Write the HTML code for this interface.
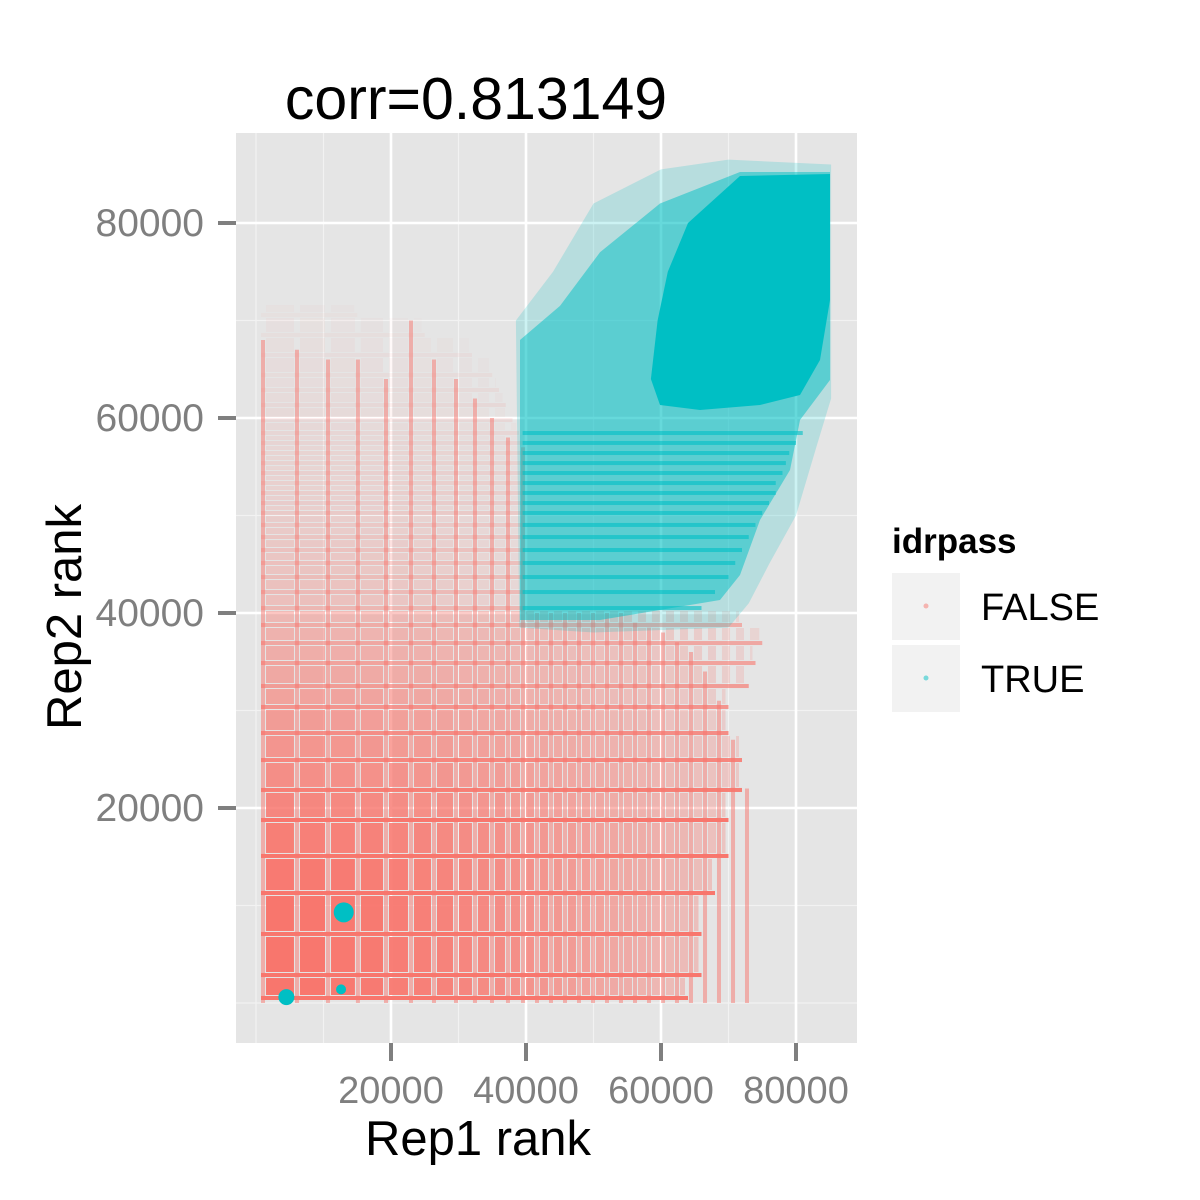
<!DOCTYPE html>
<html><head><meta charset="utf-8"><style>
html,body{margin:0;padding:0;background:#fff;}
svg{display:block;font-family:"Liberation Sans",sans-serif;}
</style></head><body>
<svg id="chart" width="1200" height="1200" viewBox="0 0 1200 1200" xmlns="http://www.w3.org/2000/svg">
<rect x="0" y="0" width="1200" height="1200" fill="#fff"/>
<text x="476" y="119" font-size="59" text-anchor="middle" fill="#000">corr=0.813149</text>
<rect x="236" y="133" width="621" height="910" fill="#e5e5e5"/>
<g id="grid"></g>
<g id="red"></g>
<g id="cyan"></g>
<g id="axes"></g>
<text x="478" y="1155" font-size="49" text-anchor="middle" fill="#000">Rep1 rank</text>
<text transform="translate(81,617) rotate(-90)" font-size="49" text-anchor="middle" fill="#000">Rep2 rank</text>
<g>
<text x="892" y="553" font-size="35" font-weight="bold" fill="#000">idrpass</text>
<rect x="892" y="573" width="68" height="67" fill="#f2f2f2"/>
<circle cx="926" cy="606" r="2.5" fill="#F8766D" opacity="0.5"/>
<text x="981" y="620" font-size="38" fill="#000">FALSE</text>
<rect x="892" y="645" width="68" height="67" fill="#f2f2f2"/>
<circle cx="926" cy="678" r="2.5" fill="#00BFC4" opacity="0.5"/>
<text x="981" y="692" font-size="38" fill="#000">TRUE</text>
</g>
</svg>
<script>
// ---- data ----
const xTicks = [20000, 40000, 60000, 80000];
const yTicks = [20000, 40000, 60000, 80000];
const xMinor = [0, 10000, 30000, 50000, 70000];
const yMinor = [0, 10000, 30000, 50000, 70000];
const redRows = [513, 2870, 7080, 11280, 15080, 18770, 21850, 24920, 27690, 30360, 32510, 34870, 36920, 38770, 40510, 42150, 43690, 45130, 46460, 47790, 49030, 50260, 51280, 52310, 53330, 54360, 55380, 56410, 57440, 58460, 59790, 61330, 62870, 64410, 66460, 68510, 70560];
const redRowExtent = [64000, 66000, 66000, 68000, 70000, 70000, 72000, 72000, 70000, 70000, 73000, 74000, 75000, 72000, 39500, 39500, 39500, 39500, 39500, 39500, 39500, 39500, 39500, 39500, 39500, 39500, 39500, 39500, 39500, 39000, 38000, 37000, 36000, 35000, 32000, 25000, 15000];
const redRowDensity = [1, 1, 1, 0.97, 0.92, 0.85, 0.78, 0.72, 0.66, 0.6, 0.55, 0.5, 0.46, 0.42, 0.34, 0.32, 0.3, 0.28, 0.26, 0.24, 0.22, 0.2, 0.18, 0.17, 0.16, 0.15, 0.14, 0.13, 0.12, 0.11, 0.1, 0.09, 0.08, 0.07, 0.06, 0.05, 0.04];
const redCols = [1040, 6070, 10670, 15100, 19260, 22960, 26370, 29630, 32440, 34960, 37330, 39560, 41630, 43700, 45780, 47850, 49930, 52000, 54070, 56150, 58220, 60300, 62370, 64440, 66520, 68590, 70670, 72740];
const redColTop = [68000, 67000, 66000, 66000, 64000, 70000, 66000, 64000, 62000, 60000, 58000, 57000, 40000, 40000, 40000, 40000, 40000, 40000, 40000, 39000, 38500, 38000, 37000, 36000, 34000, 31000, 27000, 22000];
const cyanHaloX = [38500, 44000, 50000, 60000, 70000, 85200, 85200, 83000, 80000, 76000, 73000, 70000, 50000, 39000];
const cyanHaloY = [70000, 75000, 82000, 85500, 86500, 86000, 62000, 57000, 50000, 45000, 41000, 38500, 38000, 38500];
const cyanMidX = [39110, 45040, 50960, 59850, 71700, 85040, 85040, 80590, 79110, 74670, 71700, 68740, 50960, 39110];
const cyanMidY = [68000, 71500, 77000, 82000, 85230, 85230, 63900, 59790, 54670, 49540, 43900, 41330, 39280, 39280];
const cyanCoreX = [64000, 71700, 85040, 85040, 83560, 80590, 74670, 65780, 59850, 58500, 59500, 61000];
const cyanCoreY = [80000, 84820, 85030, 72100, 65950, 62360, 61330, 60820, 61330, 64000, 70000, 75000];
const cyanRows = [40510, 42150, 43690, 45130, 46460, 47790, 49030, 50260, 51280, 52310, 53330, 54360, 55380, 56410, 57440, 58460];
const cyanRowExtent = [66000, 68000, 70000, 71000, 72000, 73000, 74000, 75000, 76000, 77000, 77000, 78000, 78500, 79000, 80000, 81000];
const cyanBlobX = [4500, 13000, 12600];
const cyanBlobY = [600, 9300, 1400];
const cyanBlobR = [8, 10, 5];

// ---- scales ----
const X0 = 256, XS = 6.75 / 1000, Y0 = 1003, YS = 195 / 20000;
const sx = v => X0 + v * XS;
const sy = v => Y0 - v * YS;
const PL = 236, PR = 857, PT = 133, PB = 1043;
const NS = 'http://www.w3.org/2000/svg';
function mk(tag, parent, attrs) {
  const e = document.createElementNS(NS, tag);
  for (const k in attrs) e.setAttribute(k, attrs[k]);
  parent.appendChild(e);
  return e;
}
const grid = document.getElementById('grid');
const axes = document.getElementById('axes');
const red = document.getElementById('red');
const cyan = document.getElementById('cyan');

xMinor.forEach(v => {
  const l = mk('line', grid, {x1: sx(v), x2: sx(v), y1: PT, y2: PB, stroke: '#f2f2f2', 'stroke-width': 1.2});
  
  
});
yMinor.forEach(v => {
  const l = mk('line', grid, {x1: PL, x2: PR, y1: sy(v), y2: sy(v), stroke: '#f2f2f2', 'stroke-width': 1.2});
  
  
});
xTicks.forEach(v => {
  const l = mk('line', grid, {x1: sx(v), x2: sx(v), y1: PT, y2: PB, stroke: '#fff', 'stroke-width': 2.6});
  
  
  const t = mk('line', axes, {x1: sx(v), x2: sx(v), y1: PB, y2: PB + 18, stroke: '#7f7f7f', 'stroke-width': 4});
  
  
  const tx = mk('text', axes, {x: sx(v), y: 1103, 'font-size': 38, 'text-anchor': 'middle', fill: '#7f7f7f'});
  tx.textContent = String(v);
  
  
});
yTicks.forEach(v => {
  const l = mk('line', grid, {x1: PL, x2: PR, y1: sy(v), y2: sy(v), stroke: '#fff', 'stroke-width': 2.6});
  
  
  const t = mk('line', axes, {x1: PL - 18, x2: PL, y1: sy(v), y2: sy(v), stroke: '#7f7f7f', 'stroke-width': 4});
  
  
  const tx = mk('text', axes, {x: 204, y: sy(v) + 13, 'font-size': 39, 'text-anchor': 'end', fill: '#7f7f7f'});
  tx.textContent = String(v);
  
  
});

const RED = '#F8766D', CY = '#00BFC4';
for (let i = 0; i < redRows.length; i++) {
  const yTop = i + 1 < redRows.length ? sy(redRows[i + 1]) + 3 : sy(redRows[i]) - 10;
  const yBot = sy(redRows[i]) - 3;
  const ext = redRowExtent[i];
  const d = redRowDensity[i];
  for (let j = 0; j < redCols.length; j++) {
    const c0 = redCols[j];
    if (c0 >= ext) break;
    const c1 = j + 1 < redCols.length ? Math.min(redCols[j + 1], ext) : ext;
    const x0 = sx(c0) + 3, x1 = sx(c1) - 3;
    if (x1 - x0 < 1 || yBot - yTop < 1) continue;
    const f = c0 / ext;
    const op = d * Math.max(0.3, 1 - 0.7 * f * f);
    const b = mk('rect', red, {x: x0, y: yTop, width: x1 - x0, height: yBot - yTop, fill: RED, opacity: op.toFixed(3)});
    
    
  }
  const ln = mk('rect', red, {x: sx(0) + 5, y: sy(redRows[i]) - 2, width: sx(ext) - sx(0) - 5, height: 4, fill: RED, opacity: Math.min(1, d * 1.2).toFixed(3)});
  
  
}
for (let j = 0; j < redCols.length; j++) {
  const c = mk('rect', red, {x: sx(redCols[j]) - 2, y: sy(redColTop[j]), width: 4, height: sy(0) - sy(redColTop[j]), fill: RED, opacity: 0.5});
  
  
}

function poly(xs, ys, op, name) {
  const pts = xs.map((x, k) => sx(x).toFixed(1) + ',' + sy(ys[k]).toFixed(1)).join(' ');
  const p = mk('polygon', cyan, {points: pts, fill: CY, opacity: op});
  
  
}
poly(cyanHaloX, cyanHaloY, 0.2, 'true-halo');
poly(cyanMidX, cyanMidY, 0.5, 'true-region');
for (let i = 0; i < cyanRows.length; i++) {
  const r = mk('rect', cyan, {x: sx(39500), y: sy(cyanRows[i]) - 2, width: sx(cyanRowExtent[i]) - sx(39500), height: 4, fill: CY, opacity: 0.6});
  
  
}
poly(cyanCoreX, cyanCoreY, 1, 'true-core');
for (let k = 0; k < cyanBlobX.length; k++) {
  const c = mk('circle', cyan, {cx: sx(cyanBlobX[k]), cy: sy(cyanBlobY[k]), r: cyanBlobR[k], fill: CY});
  
  
}
</script>
</body></html>
